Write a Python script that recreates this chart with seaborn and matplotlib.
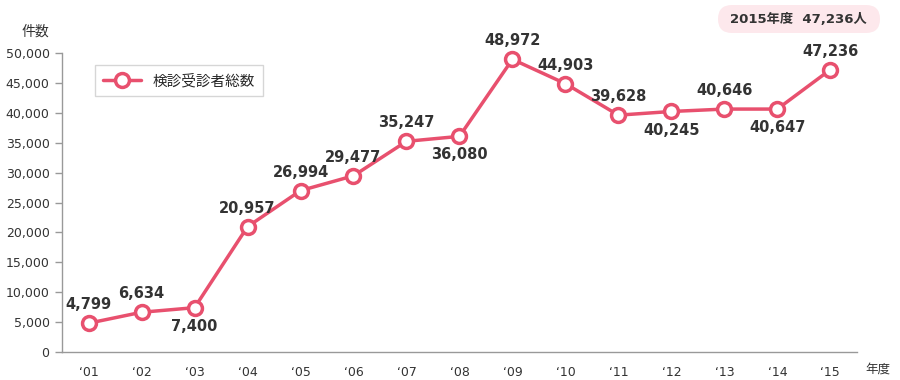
import pandas as pd
import matplotlib.pyplot as plt
import seaborn as sb
from matplotlib.patches import FancyBboxPatch

years = ['‘01', '‘02', '‘03', '‘04', '‘05', '‘06', '‘07', '‘08',
         '‘09', '‘10', '‘11', '‘12', '‘13', '‘14', '‘15']
counts = [4799, 6634, 7400, 20957, 26994, 29477, 35247, 36080,
          48972, 44903, 39628, 40245, 40646, 40647, 47236]
# labels drawn under the point for these
below = ['‘03', '‘08', '‘12', '‘14']

sb.set_style('white')
plt.rcParams['font.family'] = ['DejaVu Sans', 'Noto Sans CJK JP']

pink = '#E8506E'
grey = '#999999'

df = pd.DataFrame({'pos': range(len(years)), 'count': counts, 'year': years})

fig = plt.figure(figsize=(9, 3.8), dpi=100)
ax = fig.add_axes([0.069, 0.074, 0.883, 0.786])

sb.lineplot(data=df, x='pos', y='count', ax=ax, color=pink, linewidth=2.5,
            marker='o', markersize=10, markerfacecolor='white',
            markeredgecolor=pink, markeredgewidth=2.5, clip_on=False,
            label='検診受診者総数')

#data labels
for i, row in df.iterrows():
    if row['year'] in below:
        ax.annotate(f"{row['count']:,}", (row['pos'], row['count']), xytext=(0, -8),
                    textcoords='offset points', ha='center', va='top',
                    fontsize=10.5, fontweight='bold', color='#333333')
    else:
        ax.annotate(f"{row['count']:,}", (row['pos'], row['count']), xytext=(0, 8),
                    textcoords='offset points', ha='center', va='bottom',
                    fontsize=10.5, fontweight='bold', color='#333333')

ax.set_xlim(-0.5, len(years) - 0.5)
ax.set_ylim(0, 50000)
ax.set_yticks(range(0, 50001, 5000))
ax.set_yticklabels([f'{v:,}' for v in range(0, 50001, 5000)], fontsize=9, color='#333333')
ax.set_xticks(range(len(years)))
ax.set_xticklabels(years, fontsize=9, color='#333333')
ax.set_xticks([p - 0.5 for p in range(len(years) + 1)], minor=True)
ax.tick_params(axis='x', which='major', length=0, pad=10)
ax.tick_params(axis='x', which='minor', length=5, color=grey, width=1, direction='out')
ax.tick_params(axis='y', length=5, color=grey, width=1, direction='out', left=True, pad=4)
ax.set_xlabel('')
ax.set_ylabel('')
for s in ['top', 'right']:
    ax.spines[s].set_visible(False)
for s in ['left', 'bottom']:
    ax.spines[s].set_color(grey)
    ax.spines[s].set_linewidth(1)

leg = ax.legend(loc='upper left', bbox_to_anchor=(0.032, 0.985), fontsize=10.5,
                frameon=True, fancybox=False, handlelength=2.6, borderpad=0.55)
leg.get_frame().set_edgecolor('#cccccc')
leg.get_frame().set_linewidth(1)

fig.text(0.055, 0.918, '件数', fontsize=10, color='#333333', ha='right', va='center')
fig.text(0.975, 0.028, '年度', fontsize=9, color='#333333', ha='center', va='center')

#badge at top right (inches)
badge = FancyBboxPatch((7.18, 3.47), 1.62, 0.28, transform=fig.dpi_scale_trans,
                       boxstyle='round,pad=0,rounding_size=0.14',
                       facecolor='#FDE8EC', edgecolor='none')
fig.patches.append(badge)
fig.text(0.8875, 0.950, '2015年度  47,236人', fontsize=9.5, fontweight='bold',
         color='#333333', ha='center', va='center')

plt.savefig('out.png', dpi=100)
